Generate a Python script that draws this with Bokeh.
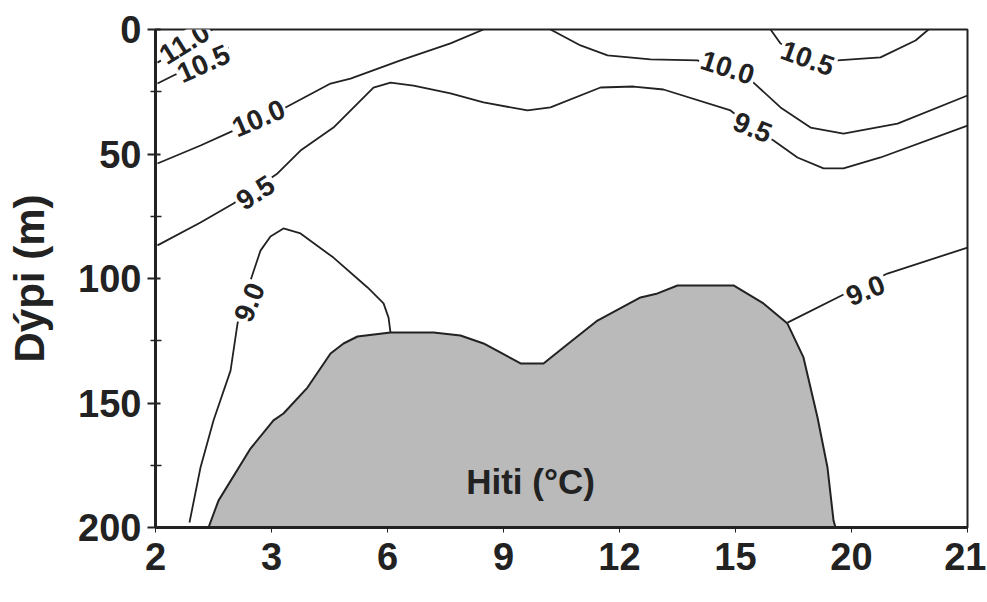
from bokeh.plotting import figure
from bokeh.models import Range1d, FixedTicker, ColumnDataSource
from bokeh.core.properties import value
from bokeh.embed import file_html
from bokeh.resources import INLINE
import math

# ---- data (x in station-index units, y = depth in m) ----
stations = ["2", "3", "6", "9", "12", "15", "20", "21"]
depth_ticks = [0, 50, 100, 150, 200]
depth_minor = [25, 75, 125, 175]

bottom_x = [0.457, 0.543, 0.819, 1.017, 1.103, 1.310, 1.509, 1.621, 1.741, 2.026, 2.397, 2.629,
            2.828, 3.147, 3.345, 3.517, 3.810, 4.181, 4.328, 4.500, 4.983, 5.241, 5.448,
            5.586, 5.707, 5.793, 5.845, 5.862]
bottom_d = [200.0, 189.2, 168.3, 157.0, 154.2, 143.8, 130.1, 126.1, 123.3, 121.7, 121.7, 122.9,
            126.1, 134.1, 134.1, 127.7, 116.9, 107.6, 106.0, 102.8, 102.8, 110.0, 118.1,
            131.7, 155.8, 175.9, 197.2, 200.0]

c110_x = [0.017, 0.259, 0.491]
c110_d = [13.3, 6.4, 0.0]

c105a_x = [0.017, 0.172, 0.388, 0.629]
c105a_d = [21.7, 18.1, 13.3, 7.2]

c100a_x = [0.017, 0.388, 0.672, 0.905, 1.121, 1.509, 1.681, 2.112, 2.543, 2.828]
c100a_d = [53.8, 46.6, 40.6, 35.7, 31.3, 21.7, 19.7, 12.4, 5.6, 0.0]

c100b_x = [3.405, 3.664, 3.897, 4.267, 4.672, 4.914, 5.155, 5.388, 5.647, 5.931, 6.397, 7.0]
c100b_d = [0.0, 6.4, 10.4, 12.0, 12.4, 16.5, 21.3, 31.3, 39.4, 41.8, 37.8, 26.5]

c105b_x = [5.302, 5.388, 5.647, 5.879, 6.250, 6.552, 6.664]
c105b_d = [0.0, 5.6, 11.2, 12.4, 11.2, 4.4, 0.0]

c95_x = [0.017, 0.388, 0.672, 1.052, 1.250, 1.534, 1.879, 2.026, 2.224, 2.543, 2.828, 3.207,
         3.405, 3.836, 4.121, 4.379, 4.957, 5.147, 5.328, 5.534, 5.759, 5.931, 6.250, 7.0]
c95_d = [86.7, 77.5, 69.9, 57.8, 48.6, 39.4, 23.3, 21.3, 22.5, 25.7, 29.3, 32.5,
         31.3, 23.3, 22.9, 24.1, 32.5, 39.4, 44.6, 51.4, 55.8, 55.8, 51.4, 38.6]

c90a_x = [0.293, 0.388, 0.500, 0.647, 0.707, 0.819, 0.905, 0.991, 1.103, 1.250, 1.534,
          1.828, 1.966, 2.009, 2.026]
c90a_d = [198.0, 175.9, 157.0, 137.0, 118.1, 100.8, 88.8, 83.1, 79.9, 81.9, 91.6,
          103.6, 110.0, 115.7, 121.7]

c90b_x = [5.448, 5.966, 6.310, 7.0]
c90b_d = [117.7, 105.6, 98.0, 87.6]

label_text = ["11.0", "10.5", "10.0", "10.0", "10.5", "9.5", "9.5", "9.0", "9.0"]
label_x = [0.250, 0.414, 0.888, 4.931, 5.621, 0.862, 5.147, 0.810, 6.121]
label_d = [5.6, 13.7, 35.7, 15.3, 11.6, 65.5, 39.4, 109.6, 104.8]
label_angle = [32, 24, 23, -18, -20, 33, -22, 68, 22]

area_label = "Hiti (°C)"
area_label_x = [3.233]
area_label_d = [181.5]

# ---- figure ----
INK = "#222222"
FONT = "Liberation Sans"

p = figure(width=986, height=600, output_backend="svg", toolbar_location=None,
           x_range=Range1d(0, len(stations) - 1), y_range=Range1d(200, 0),
           min_border_left=155, min_border_top=29, min_border_right=19, min_border_bottom=73,
           background_fill_color="white", border_fill_color="white")
p.xgrid.visible = False
p.ygrid.visible = False
p.outline_line_color = INK
p.outline_line_width = 2

# bottom topography / area
p.patch(bottom_x, bottom_d, fill_color="#bababa", line_color=INK, line_width=2)

lines = [(c110_x, c110_d), (c105a_x, c105a_d), (c100a_x, c100a_d), (c100b_x, c100b_d),
         (c105b_x, c105b_d), (c95_x, c95_d), (c90a_x, c90a_d), (c90b_x, c90b_d)]
for xs, ds in lines:
    p.line(xs, ds, line_color=INK, line_width=1.8)

src = ColumnDataSource(dict(x=label_x, y=label_d, text=label_text,
                            angle=[math.radians(a) for a in label_angle],
                            w=[len(t) * 14 + 2 for t in label_text]))
p.rect(x="x", y="y", width="w", height=22, width_units="screen", height_units="screen",
       angle="angle", fill_color="white", line_color=None, source=src)
p.text(x="x", y="y", text="text", angle="angle", source=src,
       text_font=value(FONT), text_font_style="bold", text_font_size="28px",
       text_color=INK, text_align="center", text_baseline="middle")

p.text(x=area_label_x, y=area_label_d, text=[area_label],
       text_font=value(FONT), text_font_style="bold", text_font_size="35px",
       text_color=INK, text_align="center", text_baseline="middle")

# axes
xa = p.xaxis[0]
xa.ticker = FixedTicker(ticks=list(range(len(stations))))
xa.major_label_overrides = {i: s for i, s in enumerate(stations)}
xa.major_tick_in = 0
xa.major_tick_out = 5
xa.minor_tick_line_color = None
xa.axis_line_width = 3
xa.major_label_standoff = 10

ya = p.yaxis[0]
ya.ticker = FixedTicker(ticks=depth_ticks, minor_ticks=depth_minor)
ya.major_tick_in = 5
ya.major_tick_out = 8
ya.minor_tick_in = 6
ya.minor_tick_out = 5
ya.axis_line_width = 3
ya.major_tick_line_width = 2
ya.minor_tick_line_width = 1.5
ya.major_label_standoff = 6
ya.axis_label = "Dýpi (m)"
ya.axis_label_standoff = 22

for ax in (xa, ya):
    ax.axis_line_color = INK
    ax.major_tick_line_color = INK
    ax.major_label_text_font = FONT
    ax.major_label_text_font_style = "bold"
    ax.major_label_text_font_size = "38px"
    ax.major_label_text_color = INK
    ax.axis_label_text_font = FONT
    ax.axis_label_text_font_style = "bold"
    ax.axis_label_text_font_size = "42px"
    ax.axis_label_text_color = INK
ya.minor_tick_line_color = INK

open("out.html", "w").write(file_html(p, INLINE))
